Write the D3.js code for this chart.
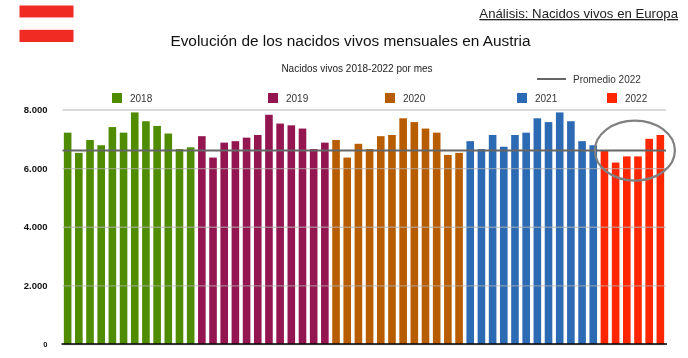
<!DOCTYPE html>
<html>
<head>
<meta charset="utf-8">
<script src="https://cdn.jsdelivr.net/npm/d3@7"></script>
<style>
  html, body { margin: 0; padding: 0; background: #fff; }
  svg { display: block; font-family: "Liberation Sans", Arial, sans-serif; filter: blur(0.45px); }
</style>
</head>
<body>
<div id="chart"></div>
<script>
const years = ['2018', '2019', '2020', '2021', '2022'];
const yearColors = ['#4f8c00', '#941651', '#b85c00', '#2c6ab3', '#ff2600'];

const values2018 = [7210, 6520, 6960, 6780, 7400, 7210, 7900, 7600, 7440, 7180, 6650, 6710];
const values2019 = [7090, 6360, 6870, 6920, 7040, 7130, 7820, 7520, 7460, 7350, 6650, 6870];
const values2020 = [6960, 6360, 6830, 6650, 7090, 7130, 7700, 7570, 7350, 7210, 6450, 6520];
const values2021 = [6920, 6650, 7130, 6730, 7130, 7210, 7700, 7570, 7900, 7600, 6920, 6780];
const values2022 = [6600, 6190, 6400, 6400, 7000, 7130];

const yTicks = [0, 2000, 4000, 6000, 8000];
const promedio2022 = 6600;

const width = 688, height = 358;
const margin = {top: 109.5, right: 22, bottom: 14, left: 62.5};

const data = [];
[values2018, values2019, values2020, values2021, values2022].forEach((vals, i) => {
  vals.forEach((v, m) => {
    data.push({year: years[i], id: years[i] + '-' + (m + 1), value: v});
  });
});

const svg = d3.select('#chart').append('svg')
  .attr('width', width)
  .attr('height', height);

const x = d3.scaleBand()
  .domain(data.map(d => d.id))
  .range([margin.left, width - margin.right - 0.5])
  .paddingInner(0.32)
  .paddingOuter(0.12);

const y = d3.scaleLinear()
  .domain([0, 8000])
  .range([height - margin.bottom, margin.top]);

const color = d3.scaleOrdinal().domain(years).range(yearColors);
const es = d3.formatLocale({decimal: ',', thousands: '.', grouping: [3], currency: ['', '€']});

// bars
svg.append('g')
  .selectAll('rect')
  .data(data)
  .join('rect')
    .attr('x', d => x(d.id))
    .attr('width', x.bandwidth())
    .attr('y', d => y(d.value))
    .attr('height', d => y(0) - y(d.value))
    .attr('fill', d => color(d.year));

// y axis with the gridlines on top of the bars, as in the picture
const yAxis = svg.append('g')
  .attr('transform', `translate(${margin.left},0)`)
  .call(d3.axisLeft(y)
    .tickValues(yTicks)
    .tickSize(-(width - margin.left - margin.right))
    .tickPadding(15)
    .tickFormat(es.format(',')));
yAxis.select('.domain').remove();
yAxis.selectAll('line')
  .attr('stroke', '#b4b4b4')
  .attr('stroke-opacity', 0.65)
  .attr('stroke-width', 1.4);
yAxis.selectAll('text')
  .attr('fill', '#111')
  .attr('font-size', d => d === 0 ? 7.5 : 9.5)
  .attr('font-weight', 'bold')
  .attr('font-family', '"Liberation Sans", Arial, sans-serif');

// baseline
svg.append('line')
  .attr('x1', margin.left - 1)
  .attr('x2', width - margin.right + 1)
  .attr('y1', y(0))
  .attr('y2', y(0))
  .attr('stroke', '#000')
  .attr('stroke-width', 1.5);

// average line
svg.append('line')
  .attr('x1', margin.left)
  .attr('x2', width - margin.right)
  .attr('y1', y(promedio2022))
  .attr('y2', y(promedio2022))
  .attr('stroke', '#666')
  .attr('stroke-width', 2);

// circle round the 2022 bars
const last = data[data.length - 1].id;
const first2022 = data[data.length - 6].id;
svg.append('ellipse')
  .attr('cx', (x(first2022) + x(last) + x.bandwidth()) / 2 + 2.5)
  .attr('cy', y(promedio2022))
  .attr('rx', 40)
  .attr('ry', 30)
  .attr('fill', 'none')
  .attr('stroke', '#808080')
  .attr('stroke-width', 2.2);

// legend
const legendX = [112, 268, 385, 517, 607];
const legend = svg.append('g')
  .selectAll('g')
  .data(years)
  .join('g')
    .attr('transform', (d, i) => `translate(${legendX[i]},93)`);
legend.append('rect')
  .attr('width', 10)
  .attr('height', 10)
  .attr('fill', d => color(d));
legend.append('text')
  .attr('x', 18)
  .attr('y', 9)
  .attr('font-size', 10)
  .attr('fill', '#333')
  .text(d => d);

svg.append('line')
  .attr('x1', 537).attr('x2', 566)
  .attr('y1', 79).attr('y2', 79)
  .attr('stroke', '#666')
  .attr('stroke-width', 2);
svg.append('text')
  .attr('x', 573).attr('y', 83)
  .attr('font-size', 10)
  .attr('fill', '#333')
  .text('Promedio 2022');

// titles
svg.append('text')
  .attr('x', 350.5).attr('y', 46)
  .attr('text-anchor', 'middle')
  .attr('font-size', 15.4)
  .attr('fill', '#111')
  .text('Evolución de los nacidos vivos mensuales en Austria');
svg.append('text')
  .attr('x', 357).attr('y', 71.5)
  .attr('text-anchor', 'middle')
  .attr('font-size', 10)
  .attr('fill', '#222')
  .text('Nacidos vivos 2018-2022 por mes');
svg.append('text')
  .attr('x', 678).attr('y', 18)
  .attr('text-anchor', 'end')
  .attr('font-size', 13.2)
  .attr('fill', '#222')
  .attr('text-decoration', 'underline')
  .text('Análisis: Nacidos vivos en Europa');

// flag
const flagY = d3.scaleBand().domain(['a', 'b', 'c']).range([5.5, 42]);
svg.append('g')
  .selectAll('rect')
  .data(['a', 'b', 'c'])
  .join('rect')
    .attr('x', 19.5)
    .attr('y', d => flagY(d))
    .attr('width', 54)
    .attr('height', flagY.bandwidth())
    .attr('fill', d => d === 'b' ? '#fffdfb' : '#ef2b24');
</script>
</body>
</html>
